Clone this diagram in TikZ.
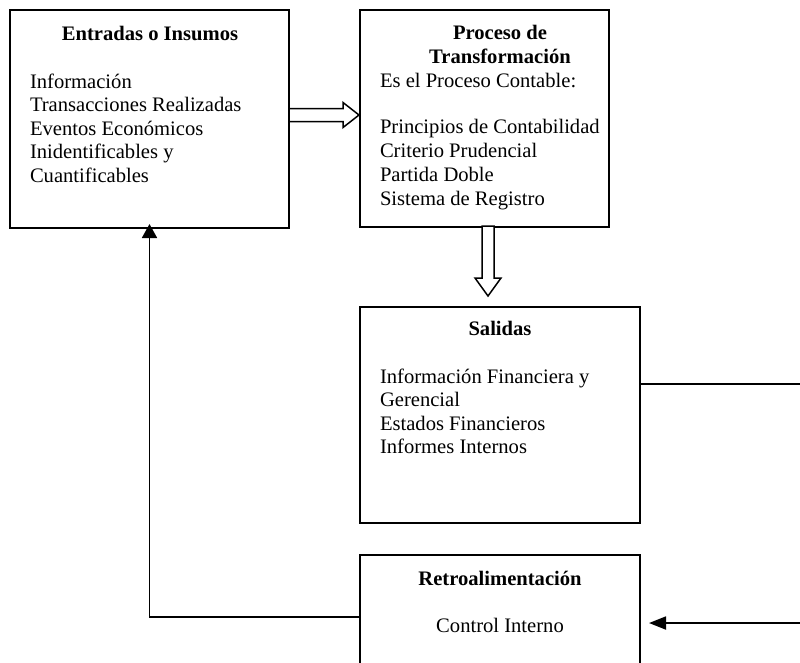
\documentclass[tikz,border=0pt]{standalone}
\usepackage{fontspec}
\setmainfont{Liberation Serif}
\usetikzlibrary{arrows.meta,calc}
\tikzset{
  boxnode/.style={draw=black, line width=2pt, rectangle, inner sep=0pt, fill=white},
  txt/.style={inner sep=0pt, outer sep=0pt, font=\fontsize{20.6}{23.6}\selectfont, anchor=base west},
  ttl/.style={inner sep=0pt, outer sep=0pt, font=\fontsize{20.6}{23.6}\selectfont\bfseries, anchor=base},
  ctr/.style={inner sep=0pt, outer sep=0pt, font=\fontsize{20.6}{23.6}\selectfont, anchor=base},
  hollow/.style={draw=black, line width=1.5pt, fill=white, line join=miter},
  conn/.style={draw=black, line width=1.8pt}
}
\begin{document}
\begin{tikzpicture}[x=1pt,y=-1pt]
\useasboundingbox (0,0) rectangle (800,662);
\clip (0,0) rectangle (800,662);
\fill[white] (0,0) rectangle (800,662);
% boxes
\node[boxnode, minimum width=279pt, minimum height=218pt] (b1) at (149.5,119) {};
\node[boxnode, minimum width=249pt, minimum height=217pt] (b2) at (484.5,118.5) {};
\node[boxnode, minimum width=280pt, minimum height=216pt] (b3) at (500,415) {};
\node[boxnode, minimum width=280pt, minimum height=150pt] (b4) at (500,630) {};
% box 1 text
\node[ttl] (t1) at (150,40) {Entradas o Insumos};
\node[txt] (t1a) at (30,88) {Información};
\node[txt] (t1b) at (30,111.6) {Transacciones Realizadas};
\node[txt] (t1c) at (30,135.2) {Eventos Económicos};
\node[txt] (t1d) at (30,158.8) {Inidentificables y};
\node[txt] (t1e) at (30,182.4) {Cuantificables};
% box 2 text
\node[ttl] (t2) at (500,39) {Proceso de};
\node[ttl] (t2x) at (500,63) {Transformación};
\node[txt] (t2a) at (380,87) {Es el Proceso Contable:};
\node[txt] (t2b) at (380,133) {Principios de Contabilidad};
\node[txt] (t2c) at (380,157) {Criterio Prudencial};
\node[txt] (t2d) at (380,181) {Partida Doble};
\node[txt] (t2e) at (380,205) {Sistema de Registro};
% box 3 text
\node[ttl] (t3) at (500,335) {Salidas};
\node[txt] (t3a) at (380,383) {Información Financiera y};
\node[txt] (t3b) at (380,406.6) {Gerencial};
\node[txt] (t3c) at (380,430.2) {Estados Financieros};
\node[txt] (t3d) at (380,453.8) {Informes Internos};
% box 4 text
\node[ttl] (t4) at (500,585) {Retroalimentación};
\node[ctr] (t4a) at (500,632) {Control Interno};
% hollow arrow right (b1 -> b2)
\draw[hollow] (b1.east |- 0,108.5) -- (343,108.5) -- (343,102.5) -- (b2.west |- 0,115) -- (343,127.5) -- (343,121.5) -- (b1.east |- 0,121.5);
% hollow arrow down (b2 -> b3)
\draw[hollow] (482,226) -- (482,278) -- (475,278) -- (488,296) -- (501,278) -- (494,278) -- (494,226) -- cycle;
% feedback connectors
\coordinate (rc1) at (806,384);
\coordinate (rc2) at (806,623);
\draw[conn] (b3.east |- 0,384) -- (rc1) -- (rc2);
\draw[conn, -{Triangle[length=17pt,width=13pt]}, shorten >=8pt] (rc2) -- (b4.east |- 0,623);
\draw[conn, -{Triangle[length=14pt,width=15pt]}, shorten >=-5pt] (b4.west |- 0,617) -| (b1.south);
\end{tikzpicture}
\end{document}
